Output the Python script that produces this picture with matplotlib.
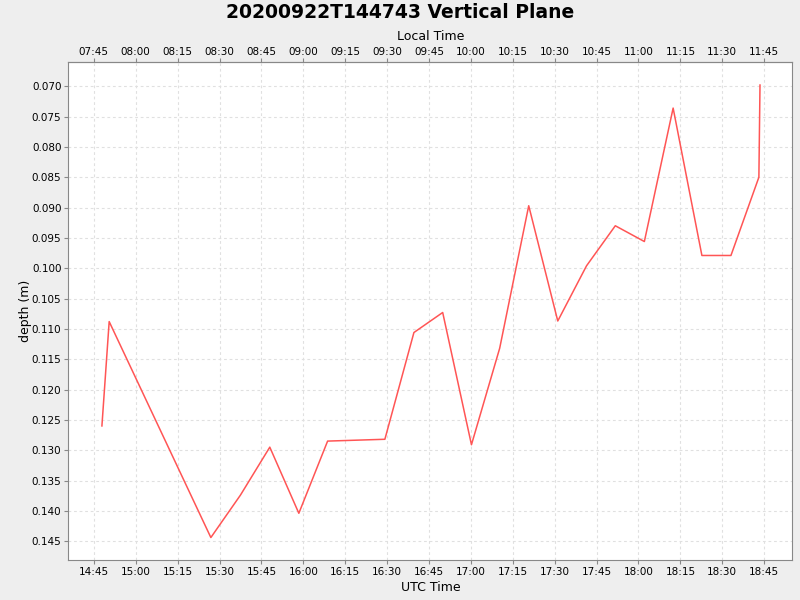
import numpy as np
import pandas as pd
import matplotlib
matplotlib.use("Agg")
import matplotlib.pyplot as plt
import matplotlib.dates as mdates

# UTC sample times on 2020-09-22 and depth in metres
times = [
    "14:47:54", "14:50:30", "15:26:54", "15:37:30", "15:48:00", "15:58:24",
    "16:08:42", "16:29:12", "16:39:36", "16:49:54", "17:00:12", "17:10:18",
    "17:20:42", "17:31:06", "17:41:24", "17:51:42", "18:02:06", "18:12:24",
    "18:22:42", "18:33:06", "18:43:06", "18:43:30",
]
depth = [
    0.1260, 0.1088, 0.1444, 0.1374, 0.1295, 0.1404,
    0.1285, 0.1282, 0.1106, 0.1073, 0.1291, 0.1132,
    0.0897, 0.1087, 0.0996, 0.0930, 0.0956, 0.0736,
    0.0979, 0.0979, 0.0850, 0.0698,
]
local_offset_hours = -7

t = pd.to_datetime(["2020-09-22 " + s for s in times])

fig = plt.figure(figsize=(8, 6), dpi=100, facecolor="#eeeeee")
ax = fig.add_axes([0.0855, 0.0667, 0.905, 0.830])
ax.set_facecolor("white")

ax.plot(t, depth, color="#ff5555", linewidth=1.1)

ax.set_xlim(pd.Timestamp("2020-09-22 14:35:54"), pd.Timestamp("2020-09-22 18:55:06"))
ax.set_ylim(0.1481, 0.0660)
ax.set_yticks(np.arange(0.070, 0.1451, 0.005))
ax.yaxis.set_major_formatter(plt.FormatStrFormatter("%.3f"))

ax.xaxis.set_major_locator(mdates.MinuteLocator(byminute=[0, 15, 30, 45]))
ax.xaxis.set_major_formatter(mdates.DateFormatter("%H:%M"))

ax.grid(True, color="#e0e0e0", linestyle=(0, (2.5, 2.5)), linewidth=0.8)
for s in ax.spines.values():
    s.set_color("#888888")
ax.tick_params(labelsize=7.5, length=3, color="#888888", pad=2)
ax.set_xlabel("UTC Time", fontsize=9, labelpad=3)
ax.set_ylabel("depth (m)", fontsize=9, labelpad=0)

# local time axis on top
top = ax.secondary_xaxis(
    "top",
    functions=(lambda x: x + local_offset_hours / 24.0,
               lambda x: x - local_offset_hours / 24.0),
)
top.xaxis.set_major_locator(mdates.MinuteLocator(byminute=[0, 15, 30, 45]))
top.xaxis.set_major_formatter(mdates.DateFormatter("%H:%M"))
top.tick_params(labelsize=7.5, length=3, color="#888888", pad=0.5)
top.spines["top"].set_color("#888888")
top.set_xlabel("Local Time", fontsize=9, labelpad=5)

fig.suptitle("20200922T144743 Vertical Plane", fontsize=13.5, fontweight="bold", y=0.995)

fig.savefig("out.png", dpi=100, facecolor=fig.get_facecolor())
